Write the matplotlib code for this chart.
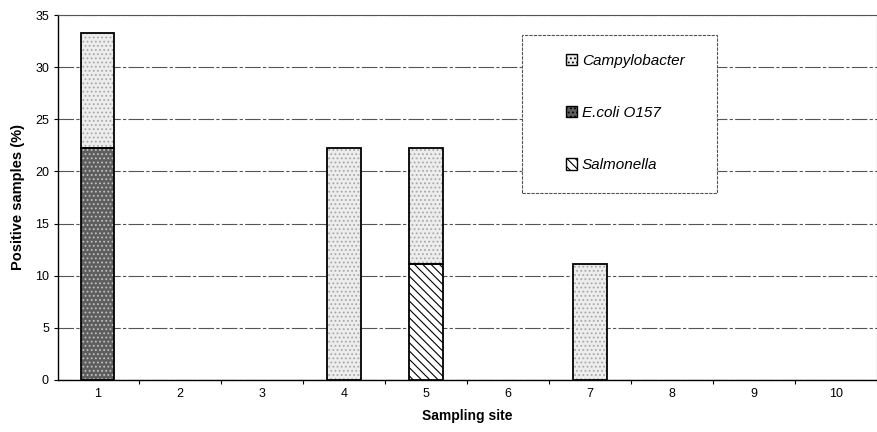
import matplotlib
matplotlib.use("Agg")
import matplotlib.pyplot as plt
import numpy as np
from matplotlib.patches import Patch, Rectangle

plt.rcParams['font.family'] = ['Liberation Sans', 'DejaVu Sans']

sites = [1, 2, 3, 4, 5, 6, 7, 8, 9, 10]
salmonella = [0, 0, 0, 0, 11.1, 0, 0, 0, 0, 0]
ecoli = [22.2, 0, 0, 0, 0, 0, 0, 0, 0, 0]
campylobacter = [11.1, 0, 0, 22.2, 11.1, 0, 11.1, 0, 0, 0]

fig = plt.figure(figsize=(8.77, 4.32), dpi=100)
ax = fig.add_axes([58/877, 52/432, 819/877, 365/432])

x = np.array(sites)
w = 0.41
sal = np.array(salmonella)
eco = np.array(ecoli)
cam = np.array(campylobacter)

plt.rcParams['hatch.linewidth'] = 0.8

def draw(vals, bottom, face, hatch, hcol):
    m = vals > 0
    ax.bar(x[m], vals[m], w, bottom=bottom[m], color=face, edgecolor=hcol,
           hatch=hatch, linewidth=0, zorder=3)
    ax.bar(x[m], vals[m], w, bottom=bottom[m], fill=False, edgecolor='black',
           linewidth=1.3, zorder=4)

b0 = np.zeros(10)
draw(sal, b0, 'white', '\\\\\\\\', 'black')
draw(eco, b0 + sal, '#5e5e5e', '....', '#c0c0c0')
draw(cam, b0 + sal + eco, '#ededed', '....', '#a8a8a8')

ax.set_xlim(0.517, 10.41)
ax.set_ylim(0, 35)
ax.set_yticks(range(0, 36, 5))
ax.set_xticks(np.arange(0.5, 10.6, 1.0)[1:])
ax.set_xticklabels([])
ax.set_xticks(sites, minor=True)
ax.set_xticklabels([str(s) for s in sites], minor=True)
ax.tick_params(axis='x', which='minor', length=0, labelsize=9, pad=6)
ax.tick_params(axis='x', which='major', length=3, width=0.8)
ax.tick_params(axis='y', labelsize=9, length=3, width=0.8)

ax.yaxis.grid(True, color='#555555', linestyle=(0, (14, 2, 3, 2)), linewidth=0.8, zorder=0)
ax.set_axisbelow(True)
for s in ['top', 'right']:
    ax.spines[s].set_linestyle((0, (3, 1)))
    ax.spines[s].set_color('#555555')
    ax.spines[s].set_linewidth(0.8)
ax.spines['left'].set_linewidth(1.0)
ax.spines['bottom'].set_linewidth(1.0)
ax.set_xlabel('Sampling site', fontsize=10, fontweight='bold', labelpad=6)
ax.set_ylabel('Positive samples (%)', fontsize=10.5, fontweight='bold', labelpad=7)

# legend frame
frame = Rectangle(((522-58)/819, (380-193)/365), 195/819, 158/365,
                  transform=ax.transAxes, facecolor='white', edgecolor='#555555',
                  linewidth=0.8, linestyle=(0, (3, 1)), zorder=5)
ax.add_patch(frame)

handles = [
    Patch(facecolor='#ededed', edgecolor='black', hatch='....', label='Campylobacter'),
    Patch(facecolor='#5e5e5e', edgecolor='black', hatch='....', label='E.coli O157'),
    Patch(facecolor='white', edgecolor='black', hatch='\\\\\\\\', label='Salmonella'),
]
leg = ax.legend(handles=handles, loc='upper left',
                bbox_to_anchor=((566-58)/819, (380-54)/365),
                frameon=False,
                prop={'style': 'italic', 'size': 11}, handlelength=0.75, handleheight=0.75,
                handletextpad=0.3, labelspacing=2.5, borderpad=0,
                borderaxespad=0)
leg.set_zorder(6)

fig.savefig('out.png', dpi=100)
